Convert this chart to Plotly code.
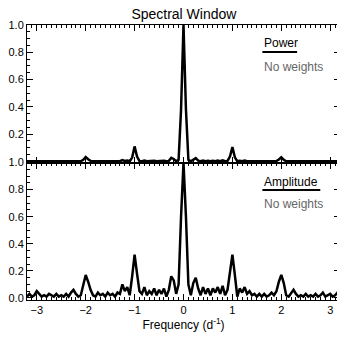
import plotly.graph_objects as go
from plotly.subplots import make_subplots

# Frequency grid (d^-1)
FREQ = [
    -3.20, -3.15, -3.10, -3.05, -3.00, -2.95, -2.90, -2.85, -2.80, -2.75,
    -2.70, -2.65, -2.60, -2.55, -2.50, -2.45, -2.40, -2.35, -2.30, -2.25,
    -2.20, -2.15, -2.10, -2.05, -2.00, -1.95, -1.90, -1.85, -1.80, -1.75,
    -1.70, -1.65, -1.60, -1.55, -1.50, -1.45, -1.40, -1.35, -1.30, -1.25,
    -1.20, -1.15, -1.10, -1.05, -1.00, -0.95, -0.90, -0.85, -0.80, -0.75,
    -0.70, -0.65, -0.60, -0.55, -0.50, -0.45, -0.40, -0.35, -0.30, -0.25,
    -0.20, -0.15, -0.10, -0.05, 0.00,
    0.05, 0.10, 0.15, 0.20, 0.25, 0.30, 0.35, 0.40, 0.45, 0.50,
    0.55, 0.60, 0.65, 0.70, 0.75, 0.80, 0.85, 0.90, 0.95, 1.00,
    1.05, 1.10, 1.15, 1.20, 1.25, 1.30, 1.35, 1.40, 1.45, 1.50,
    1.55, 1.60, 1.65, 1.70, 1.75, 1.80, 1.85, 1.90, 1.95, 2.00,
    2.05, 2.10, 2.15, 2.20, 2.25, 2.30, 2.35, 2.40, 2.45, 2.50,
    2.55, 2.60, 2.65, 2.70, 2.75, 2.80, 2.85, 2.90, 2.95, 3.00,
    3.05, 3.10, 3.15, 3.20,
]

# Spectral window, power (top panel)
POWER = [
    0.001, 0.002, 0.001, 0.001, 0.003, 0.002, 0.001, 0.001, 0.001, 0.002,
    0.001, 0.001, 0.002, 0.001, 0.001, 0.001, 0.002, 0.001, 0.002, 0.004,
    0.002, 0.001, 0.001, 0.012, 0.032, 0.016, 0.004, 0.001, 0.001, 0.002,
    0.001, 0.002, 0.001, 0.002, 0.001, 0.002, 0.001, 0.002, 0.002, 0.010,
    0.003, 0.006, 0.001, 0.028, 0.110, 0.035, 0.003, 0.001, 0.006, 0.001,
    0.003, 0.001, 0.005, 0.001, 0.004, 0.002, 0.005, 0.001, 0.004, 0.026,
    0.018, 0.002, 0.012, 0.380, 1.000,
    0.380, 0.012, 0.001, 0.013, 0.024, 0.005, 0.001, 0.006, 0.002, 0.005,
    0.001, 0.005, 0.002, 0.006, 0.001, 0.008, 0.001, 0.004, 0.036, 0.105,
    0.030, 0.001, 0.005, 0.002, 0.007, 0.001, 0.003, 0.001, 0.002, 0.001,
    0.001, 0.001, 0.001, 0.001, 0.001, 0.002, 0.001, 0.003, 0.014, 0.030,
    0.012, 0.001, 0.001, 0.002, 0.004, 0.001, 0.001, 0.001, 0.001, 0.002,
    0.001, 0.001, 0.001, 0.002, 0.001, 0.001, 0.002, 0.001, 0.001, 0.002,
    0.001, 0.001, 0.002, 0.001,
]

# Spectral window, amplitude (bottom panel)
AMPLITUDE = [
    0.01, 0.03, 0.01, 0.02, 0.05, 0.03, 0.01, 0.02, 0.01, 0.03,
    0.02, 0.01, 0.03, 0.01, 0.02, 0.01, 0.03, 0.01, 0.04, 0.06,
    0.03, 0.01, 0.02, 0.10, 0.17, 0.12, 0.06, 0.02, 0.01, 0.04,
    0.02, 0.03, 0.01, 0.04, 0.02, 0.03, 0.01, 0.04, 0.03, 0.10,
    0.05, 0.08, 0.02, 0.16, 0.32, 0.18, 0.05, 0.03, 0.08, 0.02,
    0.05, 0.03, 0.07, 0.02, 0.06, 0.03, 0.07, 0.01, 0.06, 0.16,
    0.13, 0.03, 0.10, 0.60, 1.00,
    0.60, 0.10, 0.02, 0.11, 0.15, 0.07, 0.02, 0.08, 0.03, 0.07,
    0.02, 0.07, 0.04, 0.08, 0.03, 0.09, 0.02, 0.06, 0.19, 0.32,
    0.17, 0.01, 0.07, 0.04, 0.08, 0.03, 0.05, 0.02, 0.03, 0.01,
    0.03, 0.01, 0.03, 0.01, 0.02, 0.04, 0.02, 0.05, 0.12, 0.17,
    0.11, 0.02, 0.01, 0.04, 0.06, 0.03, 0.01, 0.02, 0.01, 0.03,
    0.01, 0.02, 0.01, 0.03, 0.01, 0.02, 0.04, 0.01, 0.02, 0.03,
    0.01, 0.02, 0.04, 0.02,
]

X_TICKS = [-3, -2, -1, 0, 1, 2, 3]
Y_TICKS_TOP = [0.2, 0.4, 0.6, 0.8, 1.0]
Y_TICKS_BOTTOM = [0.0, 0.2, 0.4, 0.6, 0.8, 1.0]

FONT = 'Liberation Sans, Arial, Helvetica, sans-serif'

fig = make_subplots(rows=2, cols=1, shared_xaxes=True, vertical_spacing=0)

fig.add_trace(go.Scatter(x=FREQ, y=POWER, mode='lines',
                         line=dict(color='black', width=2.5)), row=1, col=1)
fig.add_trace(go.Scatter(x=FREQ, y=AMPLITUDE, mode='lines',
                         line=dict(color='black', width=2.5)), row=2, col=1)

axis_style = dict(
    showline=True, linecolor='black', linewidth=1, mirror='ticks',
    ticks='inside', ticklen=6, tickcolor='black', showgrid=False, zeroline=False,
    automargin=False,
    tickfont=dict(size=11, color='black', family=FONT),
)

fig.update_xaxes(range=[-3.2, 3.2], tickvals=X_TICKS,
                 minor=dict(dtick=0.1, ticks='inside', ticklen=3, tickcolor='black'),
                 **axis_style)
fig.update_xaxes(title_text='Frequency (d<sup>-1</sup>)',
                 title_font=dict(size=12, color='black', family=FONT),
                 title_standoff=5, row=2, col=1)

fig.update_yaxes(range=[-0.008, 1.0], tickvals=Y_TICKS_TOP, tickformat='.1f',
                 minor=dict(dtick=0.05, tick0=0, ticks='inside', ticklen=3, tickcolor='black'),
                 row=1, col=1, **axis_style)
fig.update_yaxes(range=[-0.015, 1.0], tickvals=Y_TICKS_BOTTOM, tickformat='.1f',
                 minor=dict(dtick=0.05, tick0=0, ticks='inside', ticklen=3, tickcolor='black'),
                 row=2, col=1, **axis_style)

# panel labels
labels = [
    ('Power', 0.935, 0.752, 0.863, 0.902),
    ('Amplitude', 0.429, 0.752, 0.937, 0.400),
]
for text, y, x0, x1, yl in labels:
    fig.add_annotation(x=0.752, y=y, xref='paper', yref='paper', text=text,
                       showarrow=False, xanchor='left', yanchor='middle',
                       font=dict(size=12, color='black', family=FONT))
    fig.add_shape(type='line', xref='paper', yref='paper', x0=x0, x1=x1, y0=yl, y1=yl,
                  line=dict(color='black', width=2))
for y in [0.847, 0.349]:
    fig.add_annotation(x=0.752, y=y, xref='paper', yref='paper', text='No weights',
                       showarrow=False, xanchor='left', yanchor='middle',
                       font=dict(size=12, color='#666666', family=FONT))

# the page puts the plot 8px in from the corner, so the figure is a bit smaller
fig.update_layout(
    width=337, height=337,
    margin=dict(l=19, r=5, t=17, b=45),
    showlegend=False,
    paper_bgcolor='white', plot_bgcolor='white',
    title=dict(text='Spectral Window', x=0.522, xanchor='center',
               yref='container', y=0.997, yanchor='top', pad=dict(t=0),
               font=dict(size=14, color='black', family=FONT)),
)

fig.write_html("out.html")
